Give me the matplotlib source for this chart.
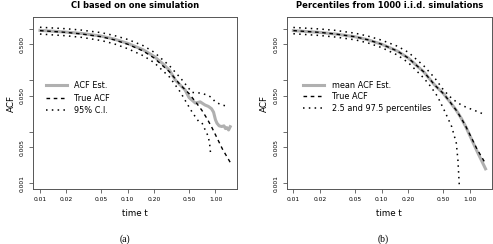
import numpy as np
import matplotlib
matplotlib.use("Agg")
import matplotlib.pyplot as plt
from matplotlib.ticker import FixedLocator, FixedFormatter, NullLocator

# -------------------------
# Data
# -------------------------
t_true = [0.01, 0.02, 0.03, 0.05, 0.07, 0.1, 0.15, 0.2, 0.3, 0.4, 0.5,
          0.6, 0.7, 0.8, 0.9, 1.0, 1.2, 1.5]
acf_true = [0.92, 0.85, 0.79, 0.70, 0.61, 0.50, 0.37, 0.27, 0.145, 0.080,
            0.055, 0.037, 0.026, 0.018, 0.0125, 0.0087, 0.0046, 0.0024]

# (a) one simulation
t_est_a = [0.01, 0.02, 0.03, 0.05, 0.07, 0.1, 0.15, 0.2, 0.25, 0.3, 0.35,
           0.45, 0.5, 0.55, 0.59, 0.63, 0.67, 0.72, 0.76, 0.83, 0.9, 0.95,
           1.0, 1.04, 1.1, 1.18, 1.25, 1.3, 1.35, 1.41, 1.47]
acf_est_a = [0.93, 0.86, 0.81, 0.72, 0.63, 0.52, 0.39, 0.29, 0.21, 0.155,
             0.10, 0.065, 0.046, 0.040, 0.036, 0.037, 0.038, 0.035, 0.033,
             0.031, 0.028, 0.024, 0.017, 0.0146, 0.013, 0.0126, 0.013,
             0.0115, 0.012, 0.0108, 0.0125]

t_lo_a = [0.01, 0.02, 0.03, 0.05, 0.07, 0.1, 0.15, 0.2, 0.3, 0.4, 0.47,
          0.55, 0.64, 0.70, 0.76, 0.83, 0.86, 0.88]
ci_lo_a = [0.79, 0.73, 0.68, 0.59, 0.51, 0.41, 0.30, 0.22, 0.115, 0.058,
           0.036, 0.023, 0.016, 0.015, 0.011, 0.008, 0.0055, 0.0037]

t_hi_a = [0.01, 0.02, 0.03, 0.05, 0.07, 0.1, 0.15, 0.2, 0.3, 0.4, 0.54,
          0.70, 0.83, 0.91, 0.99, 1.18, 1.41]
ci_hi_a = [1.07, 1.0, 0.94, 0.84, 0.74, 0.62, 0.47, 0.35, 0.19, 0.11, 0.058,
           0.056, 0.050, 0.046, 0.038, 0.033, 0.031]

# (b) 1000 simulations
acf_mean_b = [0.92, 0.85, 0.79, 0.70, 0.61, 0.50, 0.37, 0.27, 0.145, 0.080,
              0.055, 0.037, 0.026, 0.018, 0.0123, 0.0083, 0.0042, 0.0019]

t_lo_b = [0.01, 0.02, 0.03, 0.05, 0.07, 0.1, 0.15, 0.2, 0.3, 0.36, 0.43,
          0.52, 0.62, 0.70, 0.73, 0.76]
pct_lo_b = [0.80, 0.74, 0.69, 0.61, 0.53, 0.43, 0.31, 0.22, 0.11, 0.075,
            0.048, 0.0245, 0.0126, 0.006, 0.0028, 0.0008]

t_hi_b = t_true
pct_hi_b = [1.06, 0.99, 0.93, 0.82, 0.72, 0.60, 0.46, 0.35, 0.19, 0.11,
            0.065, 0.047, 0.038, 0.033, 0.030, 0.028, 0.0248, 0.0212]

x_ticks = [0.01, 0.02, 0.05, 0.10, 0.20, 0.50, 1.00]
x_labels = ["0.01", "0.02", "0.05", "0.10", "0.20", "0.50", "1.00"]
y_ticks = [0.001, 0.005, 0.01, 0.05, 0.1, 0.5, 1.0]
y_labels = ["0.001", "0.005", "", "0.050", "", "0.500", ""]

# -------------------------
# Styles
# -------------------------
gray = "#b0b0b0"
frame = "#555555"
dot_style = (0, (1, 2.8))
dash_style = (0, (2.6, 2.6))

fig = plt.figure(figsize=(4.93, 2.44), dpi=100)
ax_a = fig.add_axes([0.0676, 0.2254, 0.4132, 0.7037])
ax_b = fig.add_axes([0.5815, 0.2254, 0.4158, 0.7037])


def style_axes(ax, title):
    ax.set_xscale("log")
    ax.set_yscale("log")
    ax.set_xlim(0.0084, 1.76)
    ax.set_ylim(0.00077, 1.67)
    ax.xaxis.set_major_locator(FixedLocator(x_ticks))
    ax.xaxis.set_major_formatter(FixedFormatter(x_labels))
    ax.xaxis.set_minor_locator(NullLocator())
    ax.yaxis.set_major_locator(FixedLocator(y_ticks))
    ax.yaxis.set_major_formatter(FixedFormatter(y_labels))
    ax.yaxis.set_minor_locator(NullLocator())
    for s in ax.spines.values():
        s.set_color(frame)
        s.set_linewidth(0.7)
    ax.tick_params(direction="out", length=3, width=0.6, color=frame,
                   labelsize=4.3, pad=3)
    for lab in ax.get_yticklabels():
        lab.set_rotation(90)
        lab.set_va("center")
    ax.set_xlabel("time t", fontsize=6.3, labelpad=5)
    ax.set_ylabel("ACF", fontsize=6.3, labelpad=3)
    ax.set_title(title, fontsize=6.0, fontweight="bold", pad=7)


# =========================
# (a) CI based on one simulation
# =========================
ax = ax_a
ax.plot(t_est_a, acf_est_a, color=gray, lw=2.2, label="ACF Est.")
ax.plot(t_true, acf_true, color="k", lw=1.0, linestyle=dash_style,
        label="True ACF")
ax.plot(t_lo_a, ci_lo_a, color="k", lw=1.1, linestyle=dot_style,
        label="95% C.I.")
ax.plot(t_hi_a, ci_hi_a, color="k", lw=1.1, linestyle=dot_style)
style_axes(ax, "CI based on one simulation")
ax.legend(frameon=False, loc="upper left", bbox_to_anchor=(0.06, 0.63),
          fontsize=5.9, handlelength=2.6, handletextpad=0.9,
          labelspacing=0.45, borderpad=0, borderaxespad=0)

# =========================
# (b) Percentiles from 1000 simulations
# =========================
ax = ax_b
ax.plot(t_true, acf_mean_b, color=gray, lw=2.2, label="mean ACF Est.")
ax.plot(t_true, acf_true, color="k", lw=1.0, linestyle=dash_style,
        label="True ACF")
ax.plot(t_lo_b, pct_lo_b, color="k", lw=1.1, linestyle=dot_style,
        label="2.5 and 97.5 percentiles")
ax.plot(t_hi_b, pct_hi_b, color="k", lw=1.1, linestyle=dot_style)
style_axes(ax, "Percentiles from 1000 i.i.d. simulations")
ax.legend(frameon=False, loc="upper left", bbox_to_anchor=(0.08, 0.63),
          fontsize=5.9, handlelength=2.6, handletextpad=0.9,
          labelspacing=0.3, borderpad=0, borderaxespad=0)

fig.text(125 / 493, 1 - 239 / 244, "(a)", ha="center", va="center",
         fontsize=7, family="Liberation Serif")
fig.text(383 / 493, 1 - 239 / 244, "(b)", ha="center", va="center",
         fontsize=7, family="Liberation Serif")

fig.savefig("out.png", dpi=100)
